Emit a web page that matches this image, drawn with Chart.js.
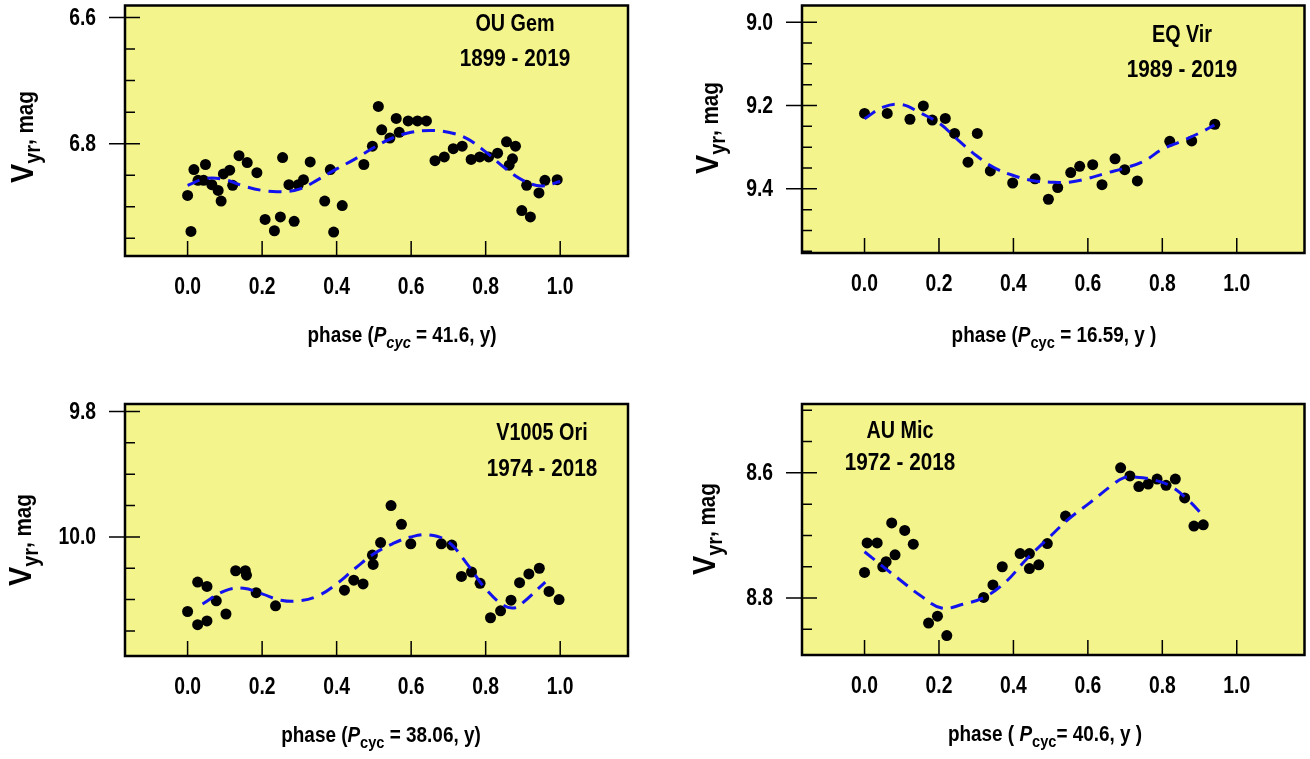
<!DOCTYPE html>
<html lang="en">
<head>
<meta charset="UTF-8">
<title>Cycle phase diagrams: OU Gem, EQ Vir, V1005 Ori, AU Mic</title>
<script src="https://cdn.jsdelivr.net/npm/chart.js"></script>
<style>
  body { margin: 0; background: #fff; }
  #wrap { position: relative; width: 1310px; height: 759px; }
  canvas { position: absolute; }
</style>
</head>
<body>
<div id="wrap">
  <canvas id="c1" width="655" height="380" style="left:0;top:0"></canvas>
  <canvas id="c2" width="655" height="380" style="left:655px;top:0"></canvas>
  <canvas id="c3" width="655" height="379" style="left:0;top:380px"></canvas>
  <canvas id="c4" width="655" height="379" style="left:655px;top:380px"></canvas>
</div>
<script>
// shared x axis
const xTicks = [0, 0.2, 0.4, 0.6, 0.8, 1.0];
const xLabels = ['0.0', '0.2', '0.4', '0.6', '0.8', '1.0'];

// OU Gem 1899 - 2019
const ouPhase = [0.000, 0.009, 0.017, 0.028, 0.043, 0.048, 0.065, 0.082, 0.090, 0.096, 0.113, 0.121, 0.138, 0.160,
  0.186, 0.208, 0.233, 0.249, 0.255, 0.272, 0.286, 0.297, 0.311, 0.329, 0.368, 0.383, 0.392, 0.415, 0.473, 0.496,
  0.512, 0.521, 0.543, 0.560, 0.568, 0.592, 0.617, 0.641, 0.664, 0.689, 0.713, 0.737, 0.761, 0.784, 0.808, 0.832,
  0.856, 0.863, 0.872, 0.880, 0.897, 0.910, 0.920, 0.943, 0.959, 0.992];
const ouMag = [6.882, 6.939, 6.841, 6.858, 6.858, 6.833, 6.865, 6.874, 6.891, 6.848, 6.842, 6.866, 6.819, 6.830,
  6.846, 6.920, 6.938, 6.916, 6.822, 6.865, 6.923, 6.865, 6.857, 6.829, 6.891, 6.841, 6.940, 6.898, 6.833, 6.804,
  6.741, 6.778, 6.791, 6.760, 6.782, 6.764, 6.764, 6.764, 6.827, 6.821, 6.808, 6.804, 6.825, 6.821, 6.821, 6.815,
  6.797, 6.834, 6.824, 6.804, 6.906, 6.866, 6.916, 6.878, 6.858, 6.857];
const ouFitPhase = [0, 0.05, 0.1, 0.15, 0.2, 0.25, 0.3, 0.35, 0.4, 0.45, 0.5, 0.55, 0.6, 0.65, 0.7, 0.75, 0.8, 0.85, 0.9, 0.95, 1.0];
const ouFitMag = [6.866, 6.855, 6.857, 6.867, 6.874, 6.876, 6.872, 6.857, 6.840, 6.824, 6.806, 6.791, 6.782, 6.779,
  6.782, 6.792, 6.813, 6.838, 6.858, 6.867, 6.860];
const ouTicks = [6.6, 6.65, 6.7, 6.75, 6.8, 6.85, 6.9, 6.95];
const ouLabels = [6.6, 6.8];

// EQ Vir 1989 - 2019
const eqPhase = [0.000, 0.061, 0.122, 0.158, 0.182, 0.217, 0.242, 0.278, 0.303, 0.338, 0.398, 0.458, 0.494, 0.519,
  0.554, 0.578, 0.613, 0.638, 0.673, 0.699, 0.733, 0.820, 0.879, 0.941];
const eqMag = [9.219, 9.219, 9.233, 9.201, 9.235, 9.231, 9.267, 9.336, 9.267, 9.357, 9.386, 9.376, 9.425, 9.397,
  9.361, 9.346, 9.342, 9.390, 9.328, 9.354, 9.381, 9.286, 9.285, 9.245];
const eqFitPhase = [0, 0.05, 0.1, 0.15, 0.2, 0.25, 0.3, 0.35, 0.4, 0.45, 0.5, 0.55, 0.6, 0.65, 0.7, 0.75, 0.8, 0.85, 0.9, 0.94];
const eqFitMag = [9.232, 9.204, 9.198, 9.218, 9.242, 9.282, 9.320, 9.350, 9.368, 9.380, 9.384, 9.384, 9.375, 9.362,
  9.350, 9.334, 9.305, 9.286, 9.266, 9.247];
const eqTicks = [9.0, 9.05, 9.1, 9.15, 9.2, 9.25, 9.3, 9.35, 9.4, 9.45, 9.5, 9.55];
const eqLabels = [9.0, 9.2, 9.4];

// V1005 Ori 1974 - 2018
const v1Phase = [0.000, 0.027, 0.027, 0.052, 0.052, 0.077, 0.103, 0.129, 0.155, 0.158, 0.184, 0.236, 0.421, 0.446,
  0.471, 0.496, 0.498, 0.518, 0.546, 0.574, 0.599, 0.681, 0.709, 0.735, 0.762, 0.785, 0.813, 0.840, 0.868, 0.891,
  0.916, 0.944, 0.970, 0.997];
const v1Mag = [10.119, 10.072, 10.140, 10.079, 10.134, 10.102, 10.123, 10.054, 10.054, 10.061, 10.089, 10.110, 10.085,
  10.069, 10.075, 10.029, 10.044, 10.009, 9.950, 9.980, 10.011, 10.011, 10.013, 10.063, 10.056, 10.074, 10.129, 10.118,
  10.101, 10.073, 10.059, 10.050, 10.087, 10.100];
const v1FitPhase = [0.04, 0.1, 0.15, 0.2, 0.25, 0.3, 0.35, 0.4, 0.45, 0.5, 0.55, 0.6, 0.65, 0.7, 0.75, 0.8, 0.85, 0.88, 0.9, 0.96];
const v1FitMag = [10.107, 10.086, 10.082, 10.091, 10.101, 10.102, 10.094, 10.075, 10.050, 10.027, 10.011, 10.000, 9.997,
  10.008, 10.043, 10.083, 10.110, 10.113, 10.105, 10.072];
const v1Ticks = [9.8, 9.85, 9.9, 9.95, 10.0, 10.05, 10.1, 10.15];
const v1Labels = [9.8, 10.0];

// AU Mic 1972 - 2018
const auPhase = [0.000, 0.007, 0.034, 0.049, 0.058, 0.073, 0.082, 0.108, 0.131, 0.172, 0.196, 0.221, 0.320, 0.345,
  0.370, 0.418, 0.443, 0.443, 0.468, 0.491, 0.540, 0.688, 0.713, 0.737, 0.762, 0.786, 0.810, 0.835, 0.860, 0.885, 0.910];
const auMag = [8.759, 8.712, 8.712, 8.750, 8.742, 8.680, 8.731, 8.692, 8.714, 8.840, 8.829, 8.860, 8.799, 8.779,
  8.750, 8.729, 8.729, 8.753, 8.747, 8.713, 8.669, 8.592, 8.605, 8.622, 8.618, 8.610, 8.620, 8.610, 8.640, 8.685, 8.683];
const auFitPhase = [0, 0.048, 0.093, 0.15, 0.207, 0.264, 0.321, 0.378, 0.435, 0.491, 0.548, 0.605, 0.662, 0.696, 0.73, 0.776, 0.822, 0.867, 0.912];
const auFitMag = [8.726, 8.749, 8.770, 8.796, 8.816, 8.810, 8.799, 8.775, 8.738, 8.706, 8.674, 8.648, 8.621, 8.608,
  8.607, 8.611, 8.621, 8.642, 8.670];
const auTicks = [8.5, 8.55, 8.6, 8.65, 8.7, 8.75, 8.8, 8.85];
const auLabels = [8.6, 8.8];

const FONT = '"Liberation Sans", Arial, sans-serif';

// writes a run of text pieces centred on x, squeezed horizontally by sx
function richText(ctx, parts, x, y, sx) {
  let total = 0;
  parts.forEach(p => {
    ctx.font = (p.i ? 'italic ' : '') + 'bold ' + p.s + 'px ' + FONT;
    p.w = ctx.measureText(p.t).width;
    total += p.w;
  });
  ctx.save();
  ctx.translate(x, y);
  ctx.scale(sx, 1);
  let cx = -total / 2;
  parts.forEach(p => {
    ctx.font = (p.i ? 'italic ' : '') + 'bold ' + p.s + 'px ' + FONT;
    ctx.fillText(p.t, cx, p.dy || 0);
    cx += p.w;
  });
  ctx.restore();
}

function label(ctx, text, x, y, align) {
  ctx.save();
  ctx.font = 'bold 23px ' + FONT;
  const w = ctx.measureText(text).width * 0.84;
  ctx.translate(align === 'right' ? x - w : x - w / 2, y);
  ctx.scale(0.84, 1);
  ctx.fillText(text, 0, 0);
  ctx.restore();
}

const deco = {
  id: 'deco',
  beforeDatasetsDraw(chart) {
    const a = chart.chartArea, ctx = chart.ctx;
    ctx.save();
    ctx.fillStyle = '#f4f48c';
    ctx.fillRect(a.left, a.top, a.right - a.left, a.bottom - a.top);
    ctx.restore();
  },
  afterDraw(chart, args, o) {
    const a = chart.chartArea, ctx = chart.ctx;
    const ys = chart.scales.y, xs = chart.scales.x;
    ctx.save();
    ctx.strokeStyle = '#000';
    ctx.lineWidth = 1.5;
    ctx.beginPath();
    o.ticks.forEach(v => {
      const y = ys.getPixelForValue(v);
      const major = o.labels.some(m => Math.abs(m - v) < 1e-6);
      ctx.moveTo(a.left - (major ? 16 : 0), y);
      ctx.lineTo(a.left + (major ? 15 : 10), y);
    });
    xs.ticks.forEach(t => {
      const x = xs.getPixelForValue(t.value);
      ctx.moveTo(x, a.bottom);
      ctx.lineTo(x, a.bottom - 15);
    });
    ctx.stroke();
    ctx.lineWidth = 2.5;
    ctx.strokeRect(a.left, a.top, a.right - a.left, a.bottom - a.top);

    ctx.fillStyle = '#000';
    ctx.textBaseline = 'middle';
    ctx.textAlign = 'left';
    // tick labels, placed by the scales
    ys.ticks.forEach(t => label(ctx, t.value.toFixed(1), a.left - 29, ys.getPixelForValue(t.value) + 1, 'right'));
    xs.ticks.forEach((t, i) => label(ctx, xLabels[i], xs.getPixelForValue(t.value), a.bottom + 32, 'center'));
    // star name and years
    richText(ctx, [{ t: o.name, s: 23 }], o.nameX, o.nameY, 0.86);
    richText(ctx, [{ t: o.years, s: 23 }], o.nameX, o.yearsY, 0.9);
    // x title
    richText(ctx, o.xTitle, o.xtX, o.xtY, 0.86);
    // y title, rotated
    ctx.translate(o.ytX, o.ytY);
    ctx.rotate(-Math.PI / 2);
    ctx.textBaseline = 'alphabetic';
    richText(ctx, [{ t: 'V', s: 32 }, { t: 'yr', s: 22, dy: 7 }, { t: ', mag', s: 23 }], 0, 0, 0.9);
    ctx.restore();
  }
};

function pts(xs, ys) {
  return xs.map((x, i) => ({ x: x, y: ys[i] }));
}

function makeChart(id, d) {
  return new Chart(document.getElementById(id), {
    type: 'scatter',
    data: {
      datasets: [
        {
          type: 'line',
          data: pts(d.fitPhase, d.fitMag),
          borderColor: '#1212ee',
          borderWidth: 3,
          borderDash: [13, 8],
          pointRadius: 0,
          tension: 0.4,
          fill: false,
          order: 0
        },
        {
          data: pts(d.phase, d.mag),
          backgroundColor: '#000',
          borderWidth: 0,
          pointRadius: 5.5,
          order: 1
        }
      ]
    },
    options: {
      responsive: false,
      animation: false,
      layout: { padding: d.pad },
      plugins: {
        legend: { display: false },
        tooltip: { enabled: false },
        deco: d.deco
      },
      scales: {
        x: {
          type: 'linear',
          min: -0.168,
          max: 1.182,
          grid: { display: false, drawTicks: false },
          border: { display: false },
          ticks: { display: false },
          afterBuildTicks: s => { s.ticks = xTicks.map(v => ({ value: v })); },
          afterFit: s => {
            s.height = d.xh;
            s.paddingLeft = s.paddingRight = s.paddingTop = s.paddingBottom = 0;
          }
        },
        y: {
          type: 'linear',
          reverse: true,
          min: d.ymin,
          max: d.ymax,
          grid: { display: false, drawTicks: false },
          border: { display: false },
          ticks: { display: false },
          afterBuildTicks: s => { s.ticks = d.labels.map(v => ({ value: v })); },
          afterFit: s => {
            s.width = d.yw;
            s.paddingLeft = s.paddingRight = s.paddingTop = s.paddingBottom = 0;
          }
        }
      }
    },
    plugins: [deco]
  });
}

function pcyc(open, val, italicSub) {
  return [
    { t: 'phase ' + open, s: 22 },
    { t: 'P', s: 22, i: true },
    { t: 'cyc', s: 17, i: italicSub, dy: 7 },
    { t: val, s: 22 }
  ];
}

makeChart('c1', {
  phase: ouPhase, mag: ouMag, fitPhase: ouFitPhase, fitMag: ouFitMag, labels: ouLabels,
  ymin: 6.581, ymax: 6.978, yw: 125, xh: 124, pad: { left: 0, top: 5, right: 27, bottom: 0 },
  deco: { ticks: ouTicks, labels: ouLabels, name: 'OU Gem', years: '1899 - 2019', nameX: 515, nameY: 25, yearsY: 60,
    xTitle: pcyc('(', ' = 41.6, y)', true), xtX: 402, xtY: 336, ytX: 33, ytY: 137 }
});
makeChart('c2', {
  phase: eqPhase, mag: eqMag, fitPhase: eqFitPhase, fitMag: eqFitMag, labels: eqLabels,
  ymin: 8.96, ymax: 9.554, yw: 147, xh: 127, pad: { left: 0, top: 4, right: 5, bottom: 0 },
  deco: { ticks: eqTicks, labels: eqLabels, name: 'EQ Vir', years: '1989 - 2019', nameX: 527, nameY: 36, yearsY: 71,
    xTitle: pcyc('(', ' = 16.59, y )', false), xtX: 399, xtY: 336, ytX: 63, ytY: 128 }
});
makeChart('c3', {
  phase: v1Phase, mag: v1Mag, fitPhase: v1FitPhase, fitMag: v1FitMag, labels: v1Labels,
  ymin: 9.788, ymax: 10.19, yw: 125, xh: 103, pad: { left: 0, top: 24, right: 27, bottom: 0 },
  deco: { ticks: v1Ticks, labels: v1Labels, name: 'V1005 Ori', years: '1974 - 2018', nameX: 542, nameY: 54, yearsY: 90,
    xTitle: pcyc('(', ' = 38.06, y)', false), xtX: 381, xtY: 356, ytX: 31, ytY: 160 }
});
makeChart('c4', {
  phase: auPhase, mag: auMag, fitPhase: auFitPhase, fitMag: auFitMag, labels: auLabels,
  ymin: 8.49, ymax: 8.891, yw: 147, xh: 104, pad: { left: 0, top: 24, right: 5, bottom: 0 },
  deco: { ticks: auTicks, labels: auLabels, name: 'AU Mic', years: '1972 - 2018', nameX: 245, nameY: 52, yearsY: 84,
    xTitle: pcyc('( ', '= 40.6, y )', false), xtX: 390, xtY: 355, ytX: 60, ytY: 149 }
});
</script>
</body>
</html>
